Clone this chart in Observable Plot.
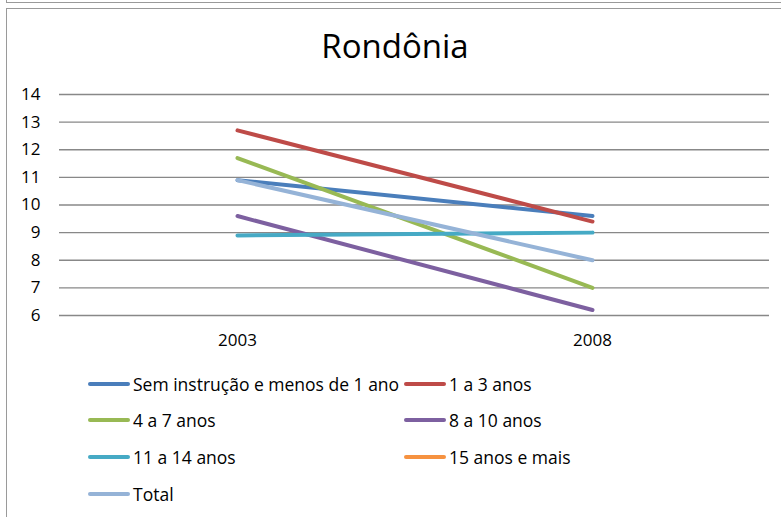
<!DOCTYPE html>
<html>
<head>
<meta charset="utf-8">
<script src="https://cdn.jsdelivr.net/npm/d3@7"></script>
<script src="https://cdn.jsdelivr.net/npm/@observablehq/plot@0.6"></script>
<style>
  html, body { margin: 0; padding: 0; background: #fff; }
  body { width: 781px; height: 517px; overflow: hidden; position: relative; font-family: "Open Sans", sans-serif; color: #000; }
  .prev { position: absolute; left: 6px; top: -20px; width: 800px; height: 21px; border: 1.5px solid #9a9a9a; }
  .frame { position: absolute; left: 6px; top: 7.5px; width: 800px; height: 600px; border: 1.5px solid #9a9a9a; }
  #title { position: absolute; left: 0; top: 26px; width: 790px; text-align: center; font-size: 33px; line-height: 40px; }
  #chart { position: absolute; left: 0; top: 75px; }
  #chart svg { background: transparent !important; }
  .leg { position: absolute; font-size: 17.5px; line-height: 20px; white-space: nowrap; }
  .leg .sw { position: absolute; left: 0; top: 8px; width: 42px; height: 4px; border-radius: 2px; }
  .leg span { position: absolute; top: 0; }
</style>
</head>
<body>
<div class="prev"></div>
<div class="frame"></div>
<div id="title">Rondônia</div>
<div id="chart"></div>
<div id="legend"></div>
<script>
const years = ["2003", "2008"];
const series = ["Sem instrução e menos de 1 ano", "1 a 3 anos", "4 a 7 anos", "8 a 10 anos", "11 a 14 anos", "15 anos e mais", "Total"];
const values2003 = [10.9, 12.7, 11.7, 9.6, 8.9, null, 10.9];
const values2008 = [9.6, 9.4, 7.0, 6.2, 9.0, null, 8.0];
const colors = ["#4A7EBB", "#BE4B48", "#98B954", "#7D60A0", "#46AAC5", "#F69240", "#95B3D7"];
const yTicks = [6, 7, 8, 9, 10, 11, 12, 13, 14];

const data = [];
series.forEach((s, i) => {
  [values2003[i], values2008[i]].forEach((v, j) => {
    if (v != null) data.push({series: s, year: years[j], value: v});
  });
});

const W = 781, H = 285;
const chart = Plot.plot({
  width: W,
  height: H,
  marginLeft: 59,
  marginRight: 12,
  marginTop: 19,
  marginBottom: 45,
  style: {fontFamily: "Open Sans, sans-serif", fontSize: "17px", color: "#000", background: "transparent"},
  x: {type: "point", domain: years, padding: 0.5, label: null, tickSize: 0, tickPadding: 18},
  y: {domain: [6, 14], ticks: yTicks, label: null, tickSize: 0, tickPadding: 19, tickFormat: d3.format("d")},
  color: {domain: series, range: colors},
  marks: [
    Plot.ruleY(yTicks, {stroke: "#888", strokeWidth: 1.4}),
    Plot.lineY(data, {x: "year", y: "value", z: "series", stroke: "series", strokeWidth: 4, strokeLinecap: "round", strokeLinejoin: "round"})
  ]
});
document.getElementById("chart").appendChild(chart);

const legendPos = [
  [88, 383.5], [404, 383.5],
  [88, 420], [404, 420],
  [88, 457], [404, 457],
  [88, 493.5]
];
const legend = document.getElementById("legend");
series.forEach((s, i) => {
  const d = document.createElement("div");
  d.className = "leg";
  d.style.left = legendPos[i][0] + "px";
  d.style.top = (legendPos[i][1] - 10) + "px";
  const sw = document.createElement("div");
  sw.className = "sw";
  sw.style.background = colors[i];
  const t = document.createElement("span");
  t.style.left = "45px";
  t.textContent = s;
  d.appendChild(sw);
  d.appendChild(t);
  legend.appendChild(d);
});
</script>
</body>
</html>
